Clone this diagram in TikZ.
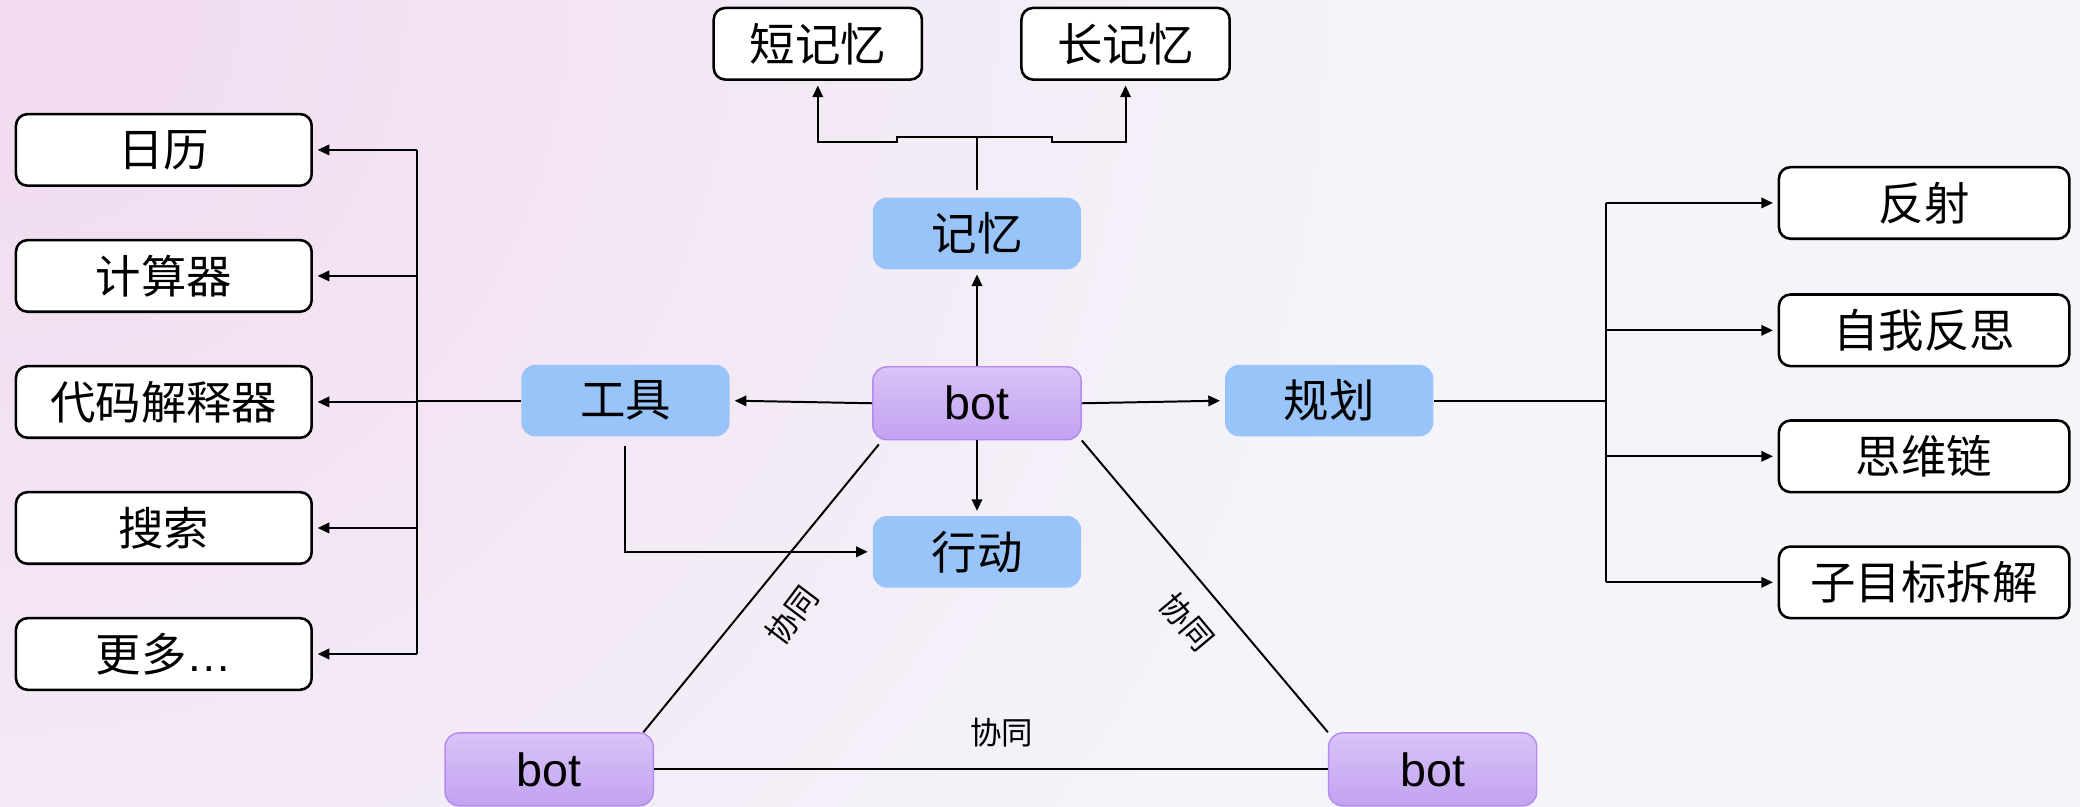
\documentclass[tikz,border=0pt]{standalone}
\usepackage{fontspec}
\setmainfont{Liberation Sans}
\newfontfamily\cjk{Noto Sans CJK SC}
\usepackage{xcolor}
\usetikzlibrary{arrows.meta}

\definecolor{fondbase}{HTML}{F4F5FA}
\definecolor{fondrose}{HTML}{F2DAEF}
\definecolor{bleu}{HTML}{99C4FA}
\definecolor{violethaut}{HTML}{D9C3F7}
\definecolor{violetbas}{HTML}{C2A2F1}
\definecolor{violetbord}{HTML}{B38AEE}

\begin{document}
\begin{tikzpicture}[x=0.02cm, y=-0.02cm,
  boite/.style={draw=black, line width=1.1pt, fill=white, rounded corners=5pt,
    minimum height=1.08cm, inner sep=0pt, font=\cjk\fontsize{19.5}{23}\selectfont},
  module/.style={fill=bleu, rounded corners=6pt, minimum width=3.14cm,
    minimum height=1.08cm, inner sep=0pt, font=\cjk\fontsize{19.5}{23}\selectfont},
  agent/.style={draw=violetbord, line width=0.6pt, top color=violethaut,
    bottom color=violetbas, rounded corners=6pt, minimum width=3.14cm,
    minimum height=1.1cm, inner sep=0pt, font=\fontsize{20}{24}\selectfont},
  fleche/.style={-{Triangle[length=5pt,width=4.5pt]}, line width=0.85pt, shorten >=2pt},
  lien/.style={line width=0.85pt},
  etiquette/.style={font=\cjk\fontsize{13.5}{16}\selectfont, inner sep=1pt}]

% Fond
\useasboundingbox (0,0) rectangle (1568,608);
\fill[fondbase] (0,0) rectangle (1568,608);
\begin{scope}
  \clip (0,0) rectangle (1568,608);
  \shade[inner color=fondrose, outer color=fondbase] (0,0) circle (1100);
\end{scope}

% Noyau : bot et ses modules
\node[agent] (bot) at (736.5,304) {bot};
\node[module] (memoire) at (736.5,176) {记忆};
\node[module] (outils) at (471.5,302) {工具};
\node[module] (plan) at (1002,302) {规划};
\node[module] (action) at (736.5,416) {行动};

% Memoire
\node[boite, minimum width=3.14cm] (court) at (616.5,33) {短记忆};
\node[boite, minimum width=3.14cm] (long) at (848.5,33) {长记忆};

% Outils
\foreach \nom/\y/\texte in {cal/113/日历, calc/208/计算器, code/303/代码解释器,
    rech/398/搜索, plus/493/更多{\rmfamily …}}
  \node[boite, minimum width=4.46cm] (\nom) at (123.5,\y) {\texte};

% Planification
\foreach \nom/\y/\texte in {refl/153/反射, autoref/249/自我反思, cot/344/思维链,
    decomp/439/子目标拆解}
  \node[boite, minimum width=4.38cm] (\nom) at (1450.5,\y) {\texte};

% Autres bots
\node[agent] (botg) at (414,580) {bot};
\node[agent] (botd) at (1080,580) {bot};

% Fleches du bot
\draw[fleche] (bot.west) -- (outils.east);
\draw[fleche] (bot.east) -- (plan.west);
\draw[fleche] (bot.north) -- (memoire.south);
\draw[fleche] (bot.south) -- (action.north);
\draw[fleche, shorten <=4pt] (outils.south) |- (action.west);

% Arbre de la memoire
\coordinate (mj) at (736.5,103);
\draw[lien, shorten <=3pt] (memoire.north) -- (mj);
\draw[fleche] (mj) -- (676,103) -- (676,107) -| (court.south);
\draw[fleche] (mj) -- (793,103) -- (793,107) -| (long.south);

% Arbre des outils
\coordinate (tg) at (314,302);
\draw[lien] (outils.west) -- (tg);
\draw[lien] (tg |- cal.east) -- (tg |- plus.east);
\foreach \nom in {cal,calc,code,rech,plus}
  \draw[fleche] (tg |- \nom.east) -- (\nom.east);

% Arbre du plan
\coordinate (td) at (1211,302);
\draw[lien] (plan.east) -- (td);
\draw[lien] (td |- refl.west) -- (td |- decomp.west);
\foreach \nom in {refl,autoref,cot,decomp}
  \draw[fleche] (td |- \nom.west) -- (\nom.west);

% Collaboration
\draw[lien] ([xshift=0.1cm,yshift=-0.06cm]bot.south west) -- ([xshift=-0.16cm]botg.north east);
\draw[lien] (bot.south east) -- (botd.north west);
\draw[lien] (botg.east) -- (botd.west);
\node[etiquette, rotate=53] (cog) at (597,464) {协同};
\node[etiquette, rotate=-50] (cod) at (895,469) {协同};
\node[etiquette] (cob) at (755,552) {协同};

\end{tikzpicture}
\end{document}
